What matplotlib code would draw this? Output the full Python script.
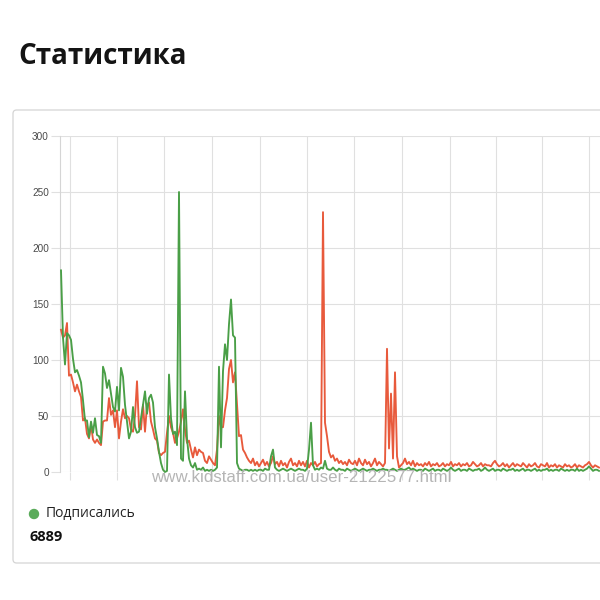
import numpy as np
import matplotlib.pyplot as plt
from matplotlib.patches import FancyBboxPatch, Circle

# значения читались с картинки, шаг ~2 px
green = [
    180, 120, 96, 124, 122, 118, 101, 89, 91, 86,
    80, 64, 46, 46, 31, 45, 35, 48, 33, 32,
    26, 94, 88, 75, 82, 70, 58, 54, 76, 55,
    93, 85, 60, 45, 30, 36, 58, 40, 35, 36,
    48, 60, 72, 52, 66, 69, 62, 40, 30, 18,
    8, 2, 0, 1, 87, 48, 34, 36, 24, 250,
    12, 10, 72, 30, 12, 6, 4, 8, 2, 3,
    2, 4, 1, 2, 1, 2, 1, 2, 4, 94,
    22, 90, 114, 100, 132, 154, 122, 120, 8, 3,
    2, 1, 2, 2, 1, 2, 1, 2, 1, 2,
    2, 1, 3, 2, 2, 14, 20, 4, 2, 1,
    2, 3, 2, 1, 2, 3, 2, 1, 2, 3,
    2, 2, 1, 3, 20, 44, 6, 2, 3, 2,
    4, 3, 10, 3, 2, 2, 4, 2, 1, 3,
    2, 2, 1, 3, 2, 1, 2, 3, 2, 1,
    2, 3, 2, 1, 2, 2, 3, 2, 1, 2,
    2, 3, 2, 2, 1, 2, 3, 2, 1, 2,
    3, 2, 2, 3, 4, 2, 3, 2, 1, 2,
    2, 1, 3, 2, 1, 2, 3, 1, 2, 2,
    1, 3, 2, 1, 2, 4, 2, 1, 2, 3,
    1, 2, 2, 1, 3, 2, 1, 2, 2, 3,
    1, 2, 4, 2, 1, 2, 3, 1, 2, 2,
    1, 3, 2, 1, 2, 2, 3, 1, 2, 1,
    2, 3, 1, 2, 2, 1, 2, 3, 1, 2,
    1, 2, 2, 3, 1, 2, 1, 2, 2, 1,
    3, 2, 1, 2, 1, 2, 2, 1, 3, 1,
    2, 1, 2, 3, 5, 3, 1, 2, 2, 1,
]

red = [
    127, 120, 122, 133, 86, 87, 80, 72, 78, 72,
    67, 46, 48, 34, 30, 42, 29, 26, 29, 26,
    24, 45, 46, 46, 66, 51, 55, 40, 55, 30,
    45, 56, 48, 50, 48, 38, 36, 50, 81, 40,
    38, 60, 36, 60, 62, 45, 38, 30, 28, 17,
    15, 17, 18, 35, 50, 40, 35, 26, 30, 36,
    45, 56, 38, 26, 28, 20, 13, 22, 15, 20,
    18, 17, 10, 8, 14, 11, 8, 6, 20, 50,
    40, 40, 55, 66, 92, 100, 80, 89, 60, 32,
    33, 20, 17, 13, 10, 8, 12, 6, 9, 5,
    8, 11, 6, 9, 5, 8, 14, 7, 9, 5,
    10, 6, 8, 4, 9, 12, 6, 8, 5, 10,
    6, 9, 5, 10, 4, 8, 6, 9, 5, 7,
    8, 232, 44, 32, 18, 13, 15, 10, 12, 8,
    10, 7, 9, 6, 11, 8, 7, 10, 6, 12,
    8, 6, 11, 7, 9, 5, 8, 12, 6, 9,
    7, 5, 8, 110, 21, 70, 12, 89, 14, 4,
    6, 8, 12, 7, 9, 6, 10, 5, 8, 6,
    7, 5, 8, 6, 9, 5, 7, 6, 8, 5,
    6, 8, 5, 7, 6, 9, 5, 7, 6, 8,
    5, 7, 6, 8, 5, 6, 9, 7, 5, 6,
    8, 5, 7, 6, 6, 5, 8, 10, 7, 5,
    6, 8, 5, 7, 4, 6, 8, 5, 7, 6,
    5, 8, 6, 4, 7, 5, 6, 8, 5, 4,
    7, 6, 5, 8, 4, 6, 5, 7, 4, 6,
    5, 4, 7, 5, 6, 4, 5, 7, 4, 6,
    5, 4, 6, 7, 9, 6, 4, 6, 5, 4,
]

# вертикальные линии сетки (по месяцам)
month_ticks = [4.5, 28, 51.5, 75.5, 99.5, 123, 146.5, 170.5, 194.5, 217.5, 240.5, 264]
y_ticks = [0, 50, 100, 150, 200, 250, 300]

title = "Статистика"
legend_label = "Подписались"
total = "6889"
watermark = "www.kidstaff.com.ua/user-2122577.html"

RED = "#e85a3c"
GREEN = "#4a9f47"
GRID = "#e0e0e0"

x = np.arange(len(green))

fig = plt.figure(figsize=(6, 6), dpi=100)
fig.patch.set_facecolor("white")

# карточка
card = FancyBboxPatch((13 / 600, 37 / 600), 0.99, 453 / 600,
                      boxstyle="round,pad=0,rounding_size=0.006",
                      transform=fig.transFigure, fc="white", ec="#d4d4d4", lw=0.9, zorder=-1)
fig.add_artist(card)

fig.text(18 / 600, 1 - 64 / 600, title, fontsize=20, fontweight="bold",
         family=["Open Sans", "DejaVu Sans"], color="#141414", va="baseline")

ax = fig.add_axes([60 / 600, 128 / 600, 540 / 600, 336 / 600])
ax.set_facecolor("none")
ax.plot(x, red, color=RED, lw=1.35, clip_on=False, zorder=3)
ax.plot(x, green, color=GREEN, lw=1.35, clip_on=False, zorder=4)

ax.set_xlim(-0.5, len(x) - 0.5)
ax.set_ylim(0, 300)
ax.set_yticks(y_ticks)
ax.set_xticks(month_ticks)
ax.set_xticklabels([])
ax.grid(True, color=GRID, lw=0.8)
ax.tick_params(axis="y", length=6.5, width=0.8, color=GRID, labelsize=7.2,
               labelcolor="#4a4a4a", pad=1.5)
ax.tick_params(axis="x", length=6, width=0.8, color=GRID)
for lab in ax.get_yticklabels():
    lab.set_family(["Liberation Sans", "DejaVu Sans"])
for s in ["top", "right", "bottom"]:
    ax.spines[s].set_visible(False)
ax.spines["left"].set_color("#d5d5d5")
ax.spines["left"].set_linewidth(0.8)

# водяной знак
fig.text(301 / 600, 1 - 477 / 600, watermark, fontsize=12.2, color="#b5b5b5",
         ha="center", va="center", family=["Liberation Sans", "DejaVu Sans"], zorder=10)

# легенда и итог
fig.add_artist(Circle((34 / 600, 1 - 514 / 600), 4.5 / 600, transform=fig.transFigure,
                      color="#5aab5a"))
fig.text(46 / 600, 1 - 514 / 600, legend_label, fontsize=10, color="#222222",
         va="center", family=["Open Sans", "DejaVu Sans"])
fig.text(30 / 600, 1 - 537 / 600, total, fontsize=10.5, fontweight="bold", color="#111111",
         va="center", family=["Open Sans", "DejaVu Sans"])

fig.savefig("out.png", dpi=100)
